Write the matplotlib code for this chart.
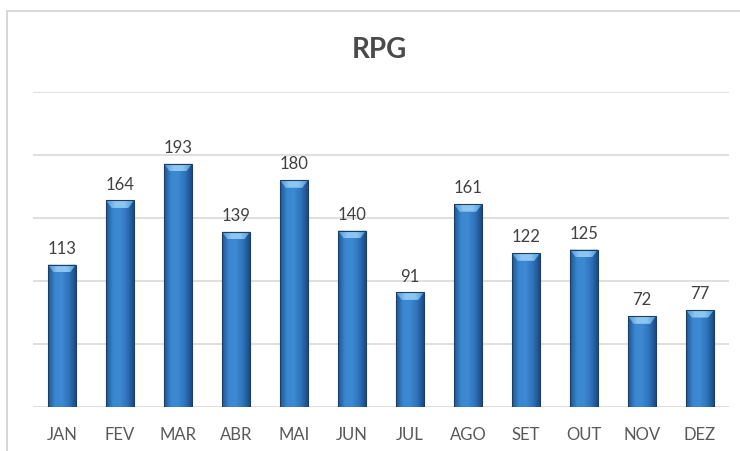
import numpy as np
import matplotlib.pyplot as plt
from matplotlib.colors import LinearSegmentedColormap
from matplotlib.patches import Polygon, Rectangle

# Data
months = ['JAN', 'FEV', 'MAR', 'ABR', 'MAI', 'JUN', 'JUL', 'AGO', 'SET', 'OUT', 'NOV', 'DEZ']
rpg = [113, 164, 193, 139, 180, 140, 91, 161, 122, 125, 72, 77]

plt.rcParams['font.family'] = ['Lato', 'DejaVu Sans']

fig = plt.figure(figsize=(7.4, 4.52), dpi=100)
# chart border (only top and left are inside the picture)
fig.add_artist(Rectangle((7 / 740, -0.2), 1.2, 1.2 - 12 / 452, transform=fig.transFigure,
                         fill=False, edgecolor='#d0d0d0', linewidth=1.2))
fig.text(0.512, 1 - 50 / 452, 'RPG', ha='center', va='center', fontsize=20,
         fontweight='bold', color='#4a4a4a')

ax = fig.add_axes([33 / 740, 1 - 408 / 452, (729 - 33) / 740, (408 - 93) / 452])
x = np.arange(len(months))
width = 0.48
bars = ax.bar(x, rpg, width=width, color='none', edgecolor='#1d3d63', linewidth=0.8, zorder=3)

# horizontal gradient inside each bar
cmap = LinearSegmentedColormap.from_list('cyl', ['#1f5592', '#3a86d0', '#3d8ad2', '#2f74bc', '#1b4b85'])
grad = np.linspace(0, 1, 64).reshape(1, -1)
bev_cmap = LinearSegmentedColormap.from_list('bev', ['#4f95d6', '#8cc6f2', '#8cc6f2', '#4f95d6'])
for b, v in zip(bars, rpg):
    x0 = b.get_x()
    w = b.get_width()
    im = ax.imshow(grad, cmap=cmap, aspect='auto', extent=(x0, x0 + w, 0, v), zorder=2)
    im.set_clip_path(b)
    # lighter bevel at top
    bev = 6
    top = Polygon([(x0, v), (x0 + w, v), (x0 + w * 0.8, v - bev), (x0 + w * 0.2, v - bev)],
                  closed=True, facecolor='none', edgecolor='none', zorder=2.5)
    ax.add_patch(top)
    im2 = ax.imshow(grad, cmap=bev_cmap, aspect='auto', extent=(x0, x0 + w, v - bev, v), zorder=2.5)
    im2.set_clip_path(top)
    ax.text(x0 + w / 2, v + 7, str(v), ha='center', va='bottom', fontsize=12, color='#404040')

ax.set_xlim(-0.5, len(months) - 0.5)
ax.set_ylim(0, 250)
ax.set_yticks(np.arange(0, 251, 50))
ax.yaxis.grid(True, color='#d9d9d9', linewidth=1.2, zorder=0)
ax.tick_params(axis='y', left=False, labelleft=False)
ax.tick_params(axis='x', bottom=False, pad=10)
ax.set_xticks(x)
ax.set_xticklabels(months, fontsize=12, color='#595959')
for s in ax.spines.values():
    s.set_visible(False)
ax.set_facecolor('none')

fig.savefig('out.png', dpi=100)
